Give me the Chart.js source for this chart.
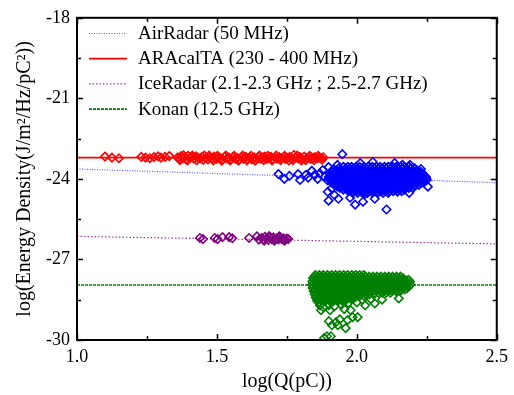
<!DOCTYPE html>
<html>
<head>
<meta charset="utf-8">
<script src="https://cdn.jsdelivr.net/npm/chart.js@4.4.0/dist/chart.umd.min.js"></script>
<style>
  body { margin: 0; background: #fff; }
</style>
</head>
<body>
<canvas id="ourChart" width="514" height="395"></canvas>
<script>
var serif = "'Liberation Serif', 'Times New Roman', Times, serif";

// axis ticks
var xTicks = [1.0, 1.5, 2.0, 2.5];
var yTicks = [-30, -27, -24, -21, -18];

// fit lines (end points at x = 1.0 and x = 2.5)
var airRadarFit = [[1.0, -23.63], [2.5, -24.14]];
var araFit = [[1.0, -23.21], [2.5, -23.21]];
var iceFit = [[1.0, -26.14], [2.5, -26.42]];
var konanFit = [[1.0, -27.95], [2.5, -27.95]];

// ARAcalTA measurements
var araPts = [
  [1.10,-23.17],[1.125,-23.21],[1.15,-23.23],[1.23,-23.18],[1.245,-23.21],[1.26,-23.23],[1.275,-23.19],[1.29,-23.16],
  [1.30,-23.21],[1.315,-23.18],[1.33,-23.15],[1.36,-23.2],[1.366,-23.26],[1.372,-23.15],[1.378,-23.23],[1.385,-23.19],
  [1.39,-23.27],[1.397,-23.14],[1.404,-23.22],[1.41,-23.18],[1.418,-23.25],[1.425,-23.16],[1.432,-23.21],[1.44,-23.24],
  [1.447,-23.18],[1.455,-23.13],[1.46,-23.22],[1.468,-23.27],[1.475,-23.2],[1.483,-23.24],[1.49,-23.17],[1.498,-23.26],
  [1.505,-23.21],[1.513,-23.23],[1.52,-23.28],[1.528,-23.18],[1.535,-23.24],[1.543,-23.21],[1.55,-23.27],[1.558,-23.19],
  [1.565,-23.25],[1.573,-23.22],[1.58,-23.28],[1.588,-23.2],[1.595,-23.25],[1.603,-23.18],[1.61,-23.26],[1.618,-23.22],
  [1.625,-23.27],[1.633,-23.2],[1.64,-23.24],[1.648,-23.19],[1.655,-23.25],[1.663,-23.21],[1.67,-23.17],[1.678,-23.26],
  [1.685,-23.23],[1.693,-23.18],[1.70,-23.27],[1.708,-23.21],[1.715,-23.25],[1.723,-23.19],[1.73,-23.24],[1.738,-23.2],
  [1.745,-23.26],[1.753,-23.22],[1.76,-23.18],[1.768,-23.25],[1.775,-23.11],[1.782,-23.21],[1.79,-23.24],[1.797,-23.19],
  [1.805,-23.26],[1.812,-23.17],[1.82,-23.23],[1.828,-23.2],[1.835,-23.26],[1.843,-23.22],[1.85,-23.19],[1.858,-23.24],
  [1.865,-23.21],[1.872,-23.23],[1.88,-23.2],
  [1.368,-23.3],[1.381,-23.12],[1.395,-23.31],[1.412,-23.13],[1.428,-23.3],[1.451,-23.29],[1.472,-23.13],[1.487,-23.31],
  [1.502,-23.14],[1.517,-23.32],[1.532,-23.13],[1.547,-23.31],[1.562,-23.14],[1.577,-23.32],[1.592,-23.13],[1.607,-23.31],
  [1.622,-23.14],[1.637,-23.32],[1.652,-23.13],[1.667,-23.3],[1.682,-23.14],[1.697,-23.31],[1.712,-23.13],[1.727,-23.3],
  [1.742,-23.14],[1.757,-23.31],[1.772,-23.3],[1.787,-23.13],[1.802,-23.31],[1.817,-23.3],[1.832,-23.14],[1.847,-23.3],
  [1.862,-23.14],[1.876,-23.28]
];

// AirRadar: scattered points around the cluster
var airRadarPts = [
  [1.72,-23.82],[1.741,-24.0],[1.759,-23.89],[1.79,-23.82],[1.797,-24.04],[1.818,-23.85],[1.826,-23.95],[1.839,-23.7],
  [1.85,-23.85],[1.86,-24.0],[1.868,-23.8],[1.878,-23.67],[1.885,-23.92],[1.899,-23.56],[1.895,-24.05],
  [1.948,-23.08],[1.931,-23.48],[2.012,-23.41],[2.057,-23.37],[2.135,-23.41],[2.163,-23.48],[2.19,-23.48],[2.229,-23.63],
  [1.896,-24.48],[1.899,-24.81],[1.934,-24.74],[1.976,-24.7],[1.994,-24.96],[2.022,-24.85],[2.064,-24.74],[2.106,-25.14],
  [2.03,-24.55],[2.145,-24.48],[2.187,-24.52],[2.254,-24.29],[2.24,-24.11],[1.91,-24.35],[1.92,-24.6]
];
// AirRadar: dense core, rows of [y, x values]
var airRadarCore = [
  [-23.55, [1.952,1.968,1.981,1.997,2.01,2.026,2.04,2.055,2.07,2.083,2.099,2.112,2.128,2.141,2.157,2.17,2.186]],
  [-23.61, [1.935,1.96,1.975,1.99,2.004,2.019,2.033,2.048,2.062,2.077,2.091,2.105,2.12,2.134,2.149,2.163,2.178,2.193,2.207]],
  [-23.68, [1.912,1.926,1.94,1.955,1.969,1.983,1.998,2.012,2.027,2.041,2.055,2.07,2.084,2.098,2.113,2.127,2.142,2.156,2.17,2.185,2.2,2.214]],
  [-23.74, [1.91,1.924,1.938,1.953,1.967,1.982,1.996,2.011,2.025,2.039,2.054,2.068,2.083,2.097,2.111,2.126,2.14,2.155,2.169,2.184,2.198,2.213,2.228]],
  [-23.8, [1.903,1.917,1.931,1.946,1.96,1.975,1.989,2.003,2.018,2.032,2.047,2.061,2.075,2.09,2.104,2.119,2.133,2.147,2.162,2.176,2.191,2.205,2.22,2.236]],
  [-23.86, [1.907,1.921,1.936,1.95,1.965,1.979,1.993,2.008,2.022,2.037,2.051,2.065,2.08,2.094,2.109,2.123,2.137,2.152,2.166,2.181,2.195,2.21,2.224,2.24]],
  [-23.92, [1.9,1.914,1.929,1.943,1.957,1.972,1.986,2.0,2.015,2.029,2.044,2.058,2.072,2.087,2.101,2.116,2.13,2.144,2.159,2.173,2.188,2.202,2.217,2.231,2.246]],
  [-23.98, [1.903,1.917,1.932,1.946,1.96,1.975,1.989,2.004,2.018,2.032,2.047,2.061,2.076,2.09,2.104,2.119,2.133,2.148,2.162,2.176,2.191,2.205,2.22,2.234,2.248]],
  [-24.04, [1.906,1.92,1.935,1.949,1.963,1.978,1.992,2.007,2.021,2.035,2.05,2.064,2.079,2.093,2.107,2.122,2.136,2.151,2.165,2.179,2.194,2.208,2.223,2.237,2.25]],
  [-24.1, [1.909,1.923,1.938,1.952,1.967,1.981,1.995,2.01,2.024,2.039,2.053,2.067,2.082,2.096,2.111,2.125,2.139,2.154,2.168,2.183,2.197,2.212,2.226,2.242]],
  [-24.16, [1.912,1.927,1.941,1.955,1.97,1.984,1.999,2.013,2.027,2.042,2.056,2.071,2.085,2.099,2.114,2.128,2.143,2.157,2.171,2.186,2.2,2.215,2.23]],
  [-24.22, [1.92,1.934,1.948,1.963,1.977,1.992,2.006,2.02,2.035,2.049,2.064,2.078,2.092,2.107,2.121,2.136,2.15,2.164,2.179,2.193,2.208,2.222]],
  [-24.28, [1.93,1.944,1.959,1.973,1.988,2.002,2.016,2.031,2.045,2.06,2.074,2.088,2.103,2.117,2.132,2.146,2.16,2.175,2.19,2.205]],
  [-24.34, [1.94,1.955,1.969,1.984,1.998,2.013,2.027,2.041,2.056,2.07,2.085,2.099,2.113,2.128,2.142,2.157,2.171,2.186,2.2]],
  [-24.4, [1.952,1.967,1.981,1.996,2.01,2.024,2.039,2.053,2.068,2.082,2.096,2.111,2.125,2.14,2.155,2.17]],
  [-24.46, [1.97,1.985,1.999,2.014,2.028,2.043,2.057,2.072,2.086,2.1,2.115,2.13,2.145,2.16]],
  [-24.52, [1.985,2.003,2.02,2.038,2.056,2.075,2.094,2.112]]
];

// IceRadar measurements
var icePts = [
  [1.439,-26.2],[1.45,-26.24],[1.492,-26.2],[1.502,-26.24],[1.52,-26.17],[1.544,-26.17],[1.555,-26.21],[1.615,-26.2],
  [1.643,-26.14],[1.65,-26.26],[1.66,-26.2],[1.666,-26.26],[1.672,-26.16],[1.678,-26.22],[1.684,-26.27],[1.69,-26.19],
  [1.696,-26.24],[1.702,-26.18],[1.708,-26.26],[1.714,-26.21],[1.72,-26.25],[1.726,-26.19],[1.732,-26.24],[1.738,-26.21],
  [1.744,-26.26],[1.75,-26.22],[1.755,-26.24],[1.669,-26.3],[1.687,-26.13],[1.705,-26.3],[1.723,-26.14],[1.741,-26.3]
];

// Konan: dense body, rows of [y, x values]
var konanCore = [
  [-27.58, [1.852,1.866,1.88,1.895,1.91,1.924,1.938,1.953,1.967,1.982,1.996,2.01,2.025]],
  [-27.64, [1.848,1.862,1.876,1.89,1.904,1.918,1.932,1.946,1.96,1.974,1.988,2.002,2.016,2.03,2.044,2.058,2.072,2.086,2.1,2.114,2.128,2.142,2.156]],
  [-27.7, [1.843,1.857,1.871,1.885,1.899,1.913,1.927,1.941,1.955,1.969,1.983,1.997,2.011,2.025,2.039,2.053,2.067,2.081,2.095,2.109,2.123,2.137,2.151,2.165]],
  [-27.76, [1.848,1.862,1.876,1.89,1.904,1.918,1.932,1.946,1.96,1.974,1.988,2.002,2.016,2.03,2.044,2.058,2.072,2.086,2.1,2.114,2.128,2.142,2.156,2.17,2.184]],
  [-27.82, [1.841,1.855,1.869,1.883,1.897,1.911,1.925,1.939,1.953,1.967,1.981,1.995,2.009,2.023,2.037,2.051,2.065,2.079,2.093,2.107,2.121,2.135,2.149,2.163,2.177,2.19]],
  [-27.88, [1.847,1.861,1.875,1.889,1.903,1.917,1.931,1.945,1.959,1.973,1.987,2.001,2.015,2.029,2.043,2.057,2.071,2.085,2.099,2.113,2.127,2.141,2.155,2.169,2.184]],
  [-27.94, [1.84,1.854,1.868,1.882,1.896,1.91,1.924,1.938,1.952,1.966,1.98,1.994,2.008,2.022,2.036,2.05,2.064,2.078,2.092,2.106,2.12,2.134,2.148,2.162,2.176,2.192]],
  [-28.0, [1.848,1.862,1.876,1.89,1.904,1.918,1.932,1.946,1.96,1.974,1.988,2.002,2.016,2.03,2.044,2.058,2.072,2.086,2.1,2.114,2.128,2.142,2.156,2.17,2.186]],
  [-28.06, [1.842,1.856,1.87,1.884,1.898,1.912,1.926,1.94,1.954,1.968,1.982,1.996,2.01,2.024,2.038,2.052,2.066,2.08,2.094,2.108,2.122,2.136,2.15,2.164,2.18]],
  [-28.12, [1.849,1.863,1.877,1.891,1.905,1.919,1.933,1.947,1.961,1.975,1.989,2.003,2.017,2.031,2.045,2.059,2.073,2.087,2.101,2.115,2.129,2.143,2.157,2.172]],
  [-28.18, [1.846,1.86,1.874,1.888,1.902,1.916,1.93,1.944,1.958,1.972,1.986,2.0,2.014,2.028,2.042,2.056,2.07,2.084,2.098,2.112,2.126,2.14,2.155]],
  [-28.24, [1.853,1.867,1.881,1.895,1.909,1.923,1.937,1.951,1.965,1.979,1.993,2.007,2.021,2.035,2.049,2.063,2.077,2.091,2.105,2.12]],
  [-28.3, [1.849,1.863,1.877,1.891,1.905,1.919,1.933,1.947,1.961,1.975,1.989,2.003,2.017,2.031,2.045,2.06]],
  [-28.36, [1.856,1.87,1.884,1.898,1.912,1.926,1.94,1.954,1.968,1.982,1.996,2.01,2.025]],
  [-28.42, [1.853,1.867,1.881,1.895,1.909,1.923,1.937,1.951,1.965,1.979,1.993]],
  [-28.48, [1.86,1.875,1.89,1.905,1.92,1.935,1.95,1.965,1.98]],
  [-28.54, [1.858,1.873,1.888,1.903,1.918,1.933,1.948]]
];
// Konan: tail below the body
var konanPts = [
  [1.865,-28.6],[1.868,-28.71],[1.872,-28.89],[1.904,-28.89],[1.9,-29.3],[1.911,-29.45],[1.925,-29.34],[1.939,-29.23],
  [1.932,-29.45],[1.96,-29.56],[1.967,-29.26],[1.985,-29.15],[2.003,-29.15],[1.978,-28.89],[2.03,-28.71],[2.064,-28.64],
  [2.15,-28.45],[1.883,-29.93],[1.893,-29.86],[1.907,-29.86],[1.88,-28.78],[1.9,-28.7],[1.92,-28.75],[1.945,-28.68],
  [1.955,-28.85],[1.97,-28.62],[2.0,-28.6],[2.02,-28.5],[2.09,-28.5],[2.05,-28.48]
];

function toPts(pairs) {
  return pairs.map(function (p) { return { x: p[0], y: p[1] }; });
}
function rowsToPts(rows) {
  var out = [];
  rows.forEach(function (r) {
    r[1].forEach(function (x) { out.push({ x: x, y: r[0] }); });
  });
  return out;
}

function marks(color, data) {
  return {
    data: data,
    pointStyle: 'rectRot',
    pointRadius: 4.2,
    pointBorderWidth: 1.6,
    borderColor: color,
    backgroundColor: 'rgba(0,0,0,0)',
    showLine: false,
    order: 1
  };
}
function fit(label, color, width, dash, data) {
  return {
    label: label,
    data: toPts(data),
    showLine: true,
    pointRadius: 0,
    borderColor: color,
    borderWidth: width,
    borderDash: dash,
    order: 2
  };
}

var fits = [
  fit('AirRadar (50 MHz)', '#5a5aff', 1.2, [1, 1.5], airRadarFit),
  fit('ARAcalTA (230 - 400 MHz)', '#ff0000', 1.8, [], araFit),
  fit('IceRadar (2.1-2.3 GHz ; 2.5-2.7 GHz)', '#9a3a9a', 1.2, [1.5, 2], iceFit),
  fit('Konan (12.5 GHz)', '#008000', 1.6, [3, 1], konanFit)
];

// frame, inward ticks and legend
var framePlugin = {
  id: 'frame',
  afterDraw: function (chart) {
    var ctx = chart.ctx, a = chart.chartArea;
    var xs = chart.scales.x, ys = chart.scales.y;
    ctx.save();
    ctx.strokeStyle = '#000';
    ctx.lineWidth = 1.5;
    var i, v, p, len;
    for (i = 0; i <= 6; i++) {
      v = 1.0 + i * 0.25;
      p = Math.round(xs.getPixelForValue(v)) + 0.5;
      len = i % 2 === 0 ? 6 : 4;
      ctx.beginPath();
      ctx.moveTo(p, a.bottom); ctx.lineTo(p, a.bottom - len);
      ctx.moveTo(p, a.top); ctx.lineTo(p, a.top + len);
      ctx.stroke();
    }
    for (i = 0; i <= 8; i++) {
      v = -30 + i * 1.5;
      p = Math.round(ys.getPixelForValue(v)) + 0.5;
      len = i % 2 === 0 ? 6 : 4;
      ctx.beginPath();
      ctx.moveTo(a.left, p); ctx.lineTo(a.left + len, p);
      ctx.moveTo(a.right, p); ctx.lineTo(a.right - len, p);
      ctx.stroke();
    }
    ctx.lineWidth = 2;
    ctx.strokeRect(a.left, a.top, a.right - a.left, a.bottom - a.top);

    // legend
    ctx.font = '19px ' + serif;
    ctx.textBaseline = 'middle';
    ctx.fillStyle = '#000';
    fits.forEach(function (d, k) {
      var y = 33 + k * 25.2;
      ctx.strokeStyle = d.borderColor;
      ctx.lineWidth = d.borderWidth;
      ctx.setLineDash(d.borderDash);
      ctx.beginPath();
      ctx.moveTo(89, y + 0.5); ctx.lineTo(127, y + 0.5);
      ctx.stroke();
      ctx.setLineDash([]);
      ctx.fillText(d.label, 138, y + 1);
    });
    ctx.restore();
  }
};

var datasets = [
  marks('#ff0000', toPts(araPts)),
  marks('#0000ff', toPts(airRadarPts).concat(rowsToPts(airRadarCore))),
  marks('#800080', toPts(icePts)),
  marks('#008000', rowsToPts(konanCore).concat(toPts(konanPts)))
].concat(fits);

function drawChart() {
  new Chart(document.getElementById('ourChart'), {
    type: 'scatter',
    data: { datasets: datasets },
    options: {
      responsive: false,
      animation: false,
      devicePixelRatio: 1,
      layout: { padding: { top: 14, right: 10, left: 0, bottom: 0 } },
      plugins: { legend: { display: false }, tooltip: { enabled: false } },
      scales: {
        x: {
          type: 'linear', min: 1.0, max: 2.5,
          afterFit: function (s) { s.height = 55; },
          afterBuildTicks: function (s) { s.ticks = xTicks.map(function (v) { return { value: v }; }); },
          grid: { display: false, drawTicks: false },
          border: { display: false },
          ticks: {
            padding: 6, color: '#000', font: { family: serif, size: 18 },
            maxRotation: 0,
            callback: function (v) { return Number(v).toFixed(1); }
          },
          title: { display: true, text: 'log(Q(pC))', color: '#000', font: { family: serif, size: 20 }, padding: { top: 0, bottom: 1 } }
        },
        y: {
          type: 'linear', min: -30, max: -18,
          afterFit: function (s) { s.width = 77; },
          afterBuildTicks: function (s) { s.ticks = yTicks.map(function (v) { return { value: v }; }); },
          grid: { display: false, drawTicks: false },
          border: { display: false },
          ticks: {
            padding: 7, color: '#000', font: { family: serif, size: 18 },
            callback: function (v) { return String(v); }
          },
          title: { display: true, text: 'log(Energy Density(J/m²/Hz/pC²))', color: '#000', font: { family: serif, size: 20 }, padding: { top: 13, bottom: 0 } }
        }
      }
    },
    plugins: [framePlugin]
  });
}

Promise.all([
  document.fonts.load('18px "Liberation Serif"'),
  document.fonts.load('20px "Liberation Serif"')
]).then(drawChart, drawChart);
</script>
</body>
</html>
